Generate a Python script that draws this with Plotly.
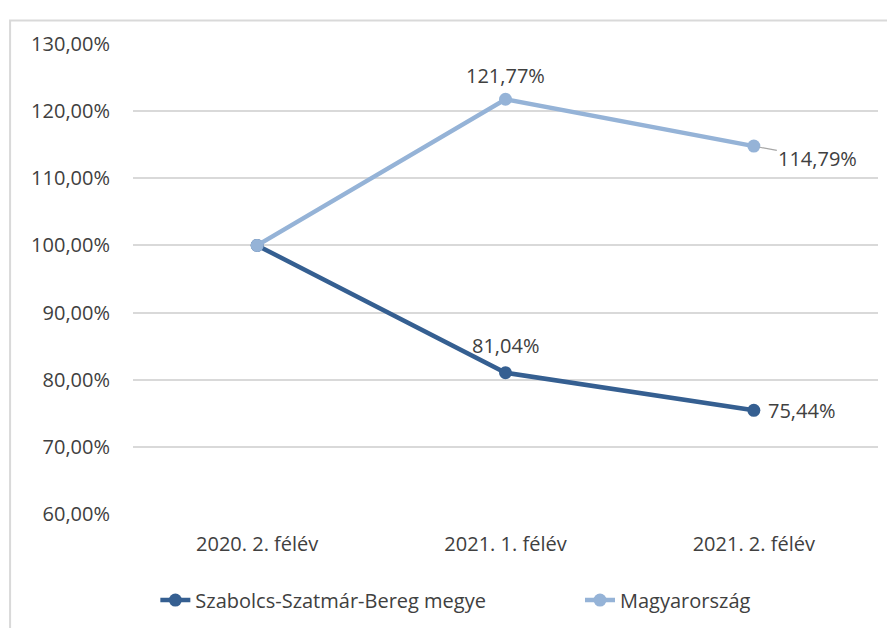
import plotly.graph_objects as go

# half-year periods and index values (2020. 2. félév = 100%)
periods = ["2020. 2. félév", "2021. 1. félév", "2021. 2. félév"]
szabolcs = [1.0, 0.8104, 0.7544]
magyar = [1.0, 1.2177, 1.1479]
y_ticks = [0.6, 0.7, 0.8, 0.9, 1.0, 1.1, 1.2, 1.3]

dark_blue = "#355F91"
light_blue = "#95B3D7"
txt = "#404040"


def pct(v):
    return f"{v*100:.2f}%".replace(".", ",")


fig = go.Figure()
fig.add_trace(go.Scatter(x=periods, y=szabolcs, name="Szabolcs-Szatmár-Bereg megye",
                         mode="lines+markers", legend="legend",
                         line=dict(color=dark_blue, width=4.5),
                         marker=dict(size=13, color=dark_blue)))
fig.add_trace(go.Scatter(x=periods, y=magyar, name="Magyarország",
                         mode="lines+markers", legend="legend2",
                         line=dict(color=light_blue, width=4.5),
                         marker=dict(size=13, color=light_blue)))

# data labels (first point has none)
label_font = dict(family="Open Sans", size=20, color=txt)
fig.add_annotation(x=periods[1], y=magyar[1], text=pct(magyar[1]),
                   showarrow=False, yshift=24, font=label_font)
fig.add_annotation(x=periods[2], y=magyar[2], text=pct(magyar[2]),
                   showarrow=True, arrowhead=0, arrowcolor="#A6A6A6", arrowwidth=1.2,
                   ax=64, ay=12, xanchor="center", font=label_font, standoff=6)
fig.add_annotation(x=periods[1], y=szabolcs[1], text=pct(szabolcs[1]),
                   showarrow=False, yshift=27, font=label_font)
fig.add_annotation(x=periods[2], y=szabolcs[2], text=pct(szabolcs[2]),
                   showarrow=False, xanchor="left", xshift=12, font=label_font)

# outer chart border
fig.add_shape(type="rect", xref="paper", yref="paper", x0=-0.165, x1=1.05, y0=-0.3, y1=1.05,
              line=dict(color="#D9D9D9", width=2), layer="below")

leg = dict(orientation="h", yref="container", y=0.045, yanchor="middle",
           font=dict(size=20, color=txt), bgcolor="rgba(0,0,0,0)")

fig.update_layout(
    width=887, height=620,
    margin=dict(l=125, r=17, t=36, b=114),
    paper_bgcolor="white", plot_bgcolor="white",
    separators=", ",
    font=dict(family="Open Sans", size=20, color=txt),
    showlegend=True,
    legend=dict(leg, x=0.03, xanchor="left"),
    legend2=dict(leg, x=0.6, xanchor="left"),
    xaxis=dict(showgrid=False, showline=False, ticks="", ticklabelstandoff=16,
               range=[-0.5, 2.5]),
    yaxis=dict(range=[0.6, 1.3], tickvals=y_ticks, tickformat=".2%",
               showgrid=True, gridcolor="#D9D9D9", gridwidth=1.5,
               zeroline=False, showline=False, ticks="", ticklabelstandoff=22),
)

fig.write_html("out.html")
